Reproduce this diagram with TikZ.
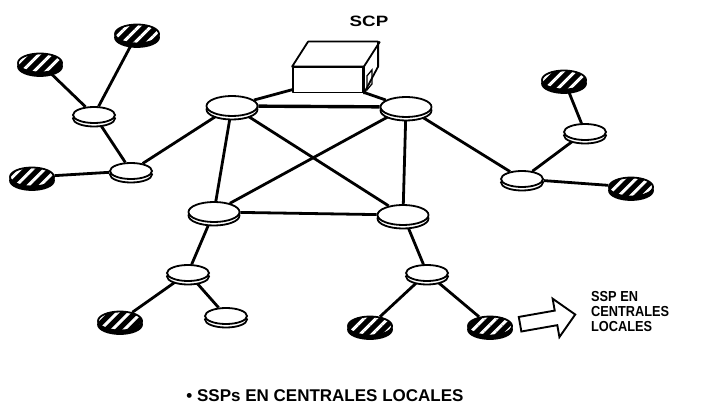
\documentclass[tikz,border=0pt]{standalone}
\usepackage{fontspec}
\newfontfamily\labelfont{Liberation Sans}
\usepackage{tikz}
\usetikzlibrary{shapes}
\usetikzlibrary{shapes.arrows}
\usetikzlibrary{backgrounds}
\usetikzlibrary{patterns.meta}

\tikzset{
  disk/.style={ellipse, draw, line width=1.8pt, fill=white, inner sep=0pt,
    minimum width=42pt, minimum height=16pt,
    preaction={draw, fill=#1, transform canvas={yshift=-3.5pt}}},
  disk/.default=white,
  bigdisk/.style={disk, minimum width=51pt, minimum height=20pt},
  hatched/.style={disk=black, minimum width=44pt, minimum height=19pt,
    preaction={fill=black},
    pattern={Lines[angle=45, distance=8.5pt, line width=3pt]}, pattern color=white},
  link/.style={line width=2.8pt},
  boxline/.style={line width=1.8pt, line join=round},
  caption/.style={font=\labelfont\bfseries, text=black, inner sep=0pt}
}

\begin{document}
\begin{tikzpicture}[x=1pt, y=-1pt]
  \useasboundingbox (0,0) rectangle (701,406);

  % central switching points
  \node[bigdisk] (a) at (232,106) {};
  \node[bigdisk] (b) at (406,107) {};
  \node[bigdisk] (c) at (214,212) {};
  \node[bigdisk] (d) at (403,215) {};

  % the SCP box
  \node[draw, boxline, fill=white, inner sep=0pt, minimum width=70pt, minimum height=25pt] (scp) at (328,80) {};
  \draw[boxline, fill=white] (scp.north west) -- ++(16,-25) -- ++(70,0) -- ++(0,25) -- (scp.south east) -- (scp.north east) -- cycle;
  \draw[boxline] (scp.north east) -- ++(16,-25);
  \draw[line width=1.3pt] (scp.east) ++(3,-4) -- ++(0,14) -- ++(5,-6) -- ++(0,-14) -- cycle;
  \node[caption, xscale=1.25, font=\labelfont\bfseries\fontsize{15}{17}\selectfont] (scplabel) at (369,21) {SCP};

  % local exchanges
  \node[disk] (l1) at (94,115) {};
  \node[disk] (l2) at (131,171) {};
  \node[disk] (r1) at (522,179) {};
  \node[disk] (r2) at (585,132) {};
  \node[disk] (bl) at (188,273) {};
  \node[disk] (w) at (226,316) {};
  \node[disk] (br) at (427,273) {};

  \node[hatched] (h1) at (40,63) {};
  \node[hatched] (h2) at (137,34) {};
  \node[hatched] (h3) at (32,177) {};
  \node[hatched] (h4) at (564,80) {};
  \node[hatched] (h5) at (631,187) {};
  \node[hatched] (h6) at (120,321) {};
  \node[hatched] (h7) at (370,326) {};
  \node[hatched] (h8) at (490,326) {};

  \node[single arrow, draw, line width=1.9pt, fill=white, minimum height=56pt,
    minimum width=39pt, single arrow head extend=7pt, rotate=10] (arrow) at (544,320) {};
  \node[caption, align=left, anchor=west, xscale=0.88, font=\labelfont\bfseries\fontsize{14.5}{15}\selectfont] (ssp) at (591,312) {SSP EN\\CENTRALES\\LOCALES};

  \node[caption, font=\labelfont\bfseries\fontsize{17}{19}\selectfont] (title) at (325,396) {\textbullet\ SSPs EN CENTRALES LOCALES};

  \begin{scope}[on background layer]
    \fill[white] (0,0) rectangle (701,406);
    \draw[link, line width=3.4pt] (a) -- (b);
    \foreach \from/\to in {a/c, a/d, b/c, b/d, c/d, a/scp, scp/b,
        h1/l1, h2/l1, l1/l2, h3/l2, l2/a,
        b/r1, r1/r2, r2/h4, r1/h5,
        c/bl, bl/h6, bl/w, d/br, br/h7, br/h8}
      \draw[link] (\from) -- (\to);
  \end{scope}
\end{tikzpicture}
\end{document}
